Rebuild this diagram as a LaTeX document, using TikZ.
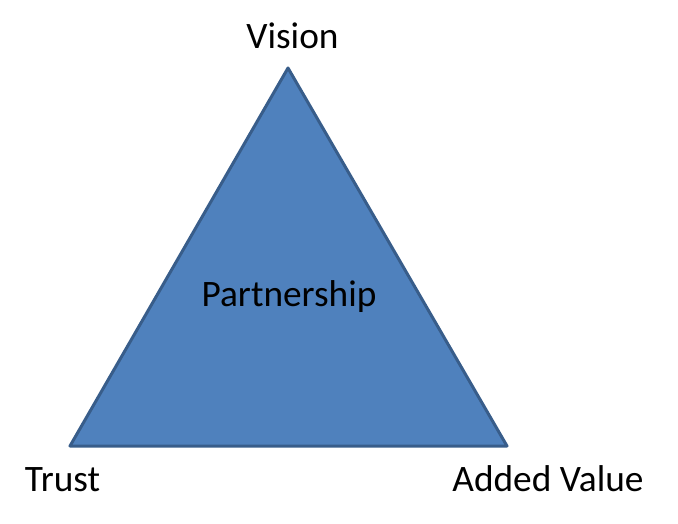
\documentclass[tikz,border=0pt]{standalone}
\usepackage{fontspec}
\setmainfont{Carlito}
\definecolor{dreieck}{RGB}{79,129,189}
\definecolor{rand}{RGB}{56,93,138}

\begin{document}
\begin{tikzpicture}[x=0.75pt,y=-0.75pt,font=\fontsize{28}{32}\selectfont]
	\useasboundingbox (0,0) rectangle (678,524);
	\coordinate (V) at (288,68);
	\coordinate (T) at (70,446);
	\coordinate (A) at (507,446);
	\draw[rand,fill=dreieck,line width=2.25pt,line join=round] (V) -- (T) -- (A) -- cycle;
	\node[anchor=base] (vision) at (292.5,49) {Vision};
	\node[anchor=base] (partner) at (289,306) {Partnership};
	\node[anchor=base] (trust) at (62.5,491) {Trust};
	\node[anchor=base] (value) at (548,491) {Added Value};
\end{tikzpicture}
\end{document}
